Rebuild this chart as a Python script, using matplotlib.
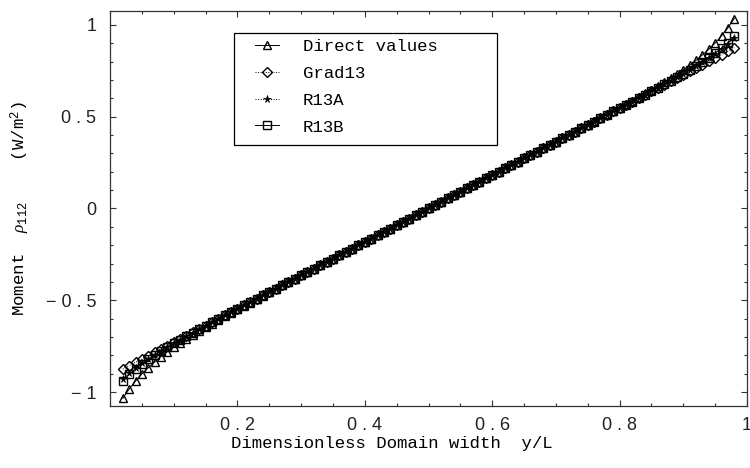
import numpy as np
import matplotlib
matplotlib.use("Agg")
import matplotlib.pyplot as plt
from matplotlib.ticker import MultipleLocator, FixedLocator
from matplotlib.patches import Rectangle

plt.rcParams['font.family'] = ['Liberation Mono', 'DejaVu Sans Mono']
plt.rcParams['mathtext.fontset'] = 'custom'
plt.rcParams['mathtext.rm'] = 'Liberation Mono'
plt.rcParams['mathtext.it'] = 'Liberation Serif:italic'
plt.rcParams['mathtext.bf'] = 'Liberation Mono:bold'

# ---------------- data ----------------
x_pos = [0.02, 0.03, 0.04, 0.05, 0.06, 0.07, 0.08, 0.09, 0.10, 0.11,
         0.12, 0.13, 0.14, 0.15, 0.16, 0.17, 0.18, 0.19, 0.20, 0.21,
         0.22, 0.23, 0.24, 0.25, 0.26, 0.27, 0.28, 0.29, 0.30, 0.31,
         0.32, 0.33, 0.34, 0.35, 0.36, 0.37, 0.38, 0.39, 0.40, 0.41,
         0.42, 0.43, 0.44, 0.45, 0.46, 0.47, 0.48, 0.49, 0.50, 0.51,
         0.52, 0.53, 0.54, 0.55, 0.56, 0.57, 0.58, 0.59, 0.60, 0.61,
         0.62, 0.63, 0.64, 0.65, 0.66, 0.67, 0.68, 0.69, 0.70, 0.71,
         0.72, 0.73, 0.74, 0.75, 0.76, 0.77, 0.78, 0.79, 0.80, 0.81,
         0.82, 0.83, 0.84, 0.85, 0.86, 0.87, 0.88, 0.89, 0.90, 0.91,
         0.92, 0.93, 0.94, 0.95, 0.96, 0.97, 0.98]

direct_values = [-1.034, -0.983, -0.940, -0.901, -0.867, -0.836, -0.806, -0.780, -0.755, -0.732,
                 -0.709, -0.687, -0.666, -0.646, -0.626, -0.607, -0.587, -0.568, -0.549, -0.530,
                 -0.512, -0.492, -0.474, -0.456, -0.437, -0.419, -0.400, -0.382, -0.364, -0.346,
                 -0.328, -0.309, -0.291, -0.273, -0.255, -0.237, -0.218, -0.200, -0.182, -0.164,
                 -0.146, -0.127, -0.109, -0.091, -0.073, -0.055, -0.036, -0.018, 0.000, 0.018,
                 0.036, 0.055, 0.073, 0.091, 0.109, 0.127, 0.146, 0.164, 0.182, 0.200,
                 0.218, 0.237, 0.255, 0.273, 0.291, 0.309, 0.328, 0.346, 0.364, 0.382,
                 0.400, 0.419, 0.437, 0.456, 0.474, 0.492, 0.512, 0.530, 0.549, 0.568,
                 0.587, 0.607, 0.626, 0.646, 0.666, 0.687, 0.709, 0.732, 0.755, 0.780,
                 0.806, 0.836, 0.867, 0.901, 0.940, 0.983, 1.034]

grad13 = [-0.874, -0.855, -0.837, -0.819, -0.801, -0.783, -0.764, -0.746, -0.728, -0.710,
          -0.692, -0.673, -0.655, -0.637, -0.619, -0.601, -0.582, -0.564, -0.546, -0.528,
          -0.510, -0.491, -0.473, -0.455, -0.437, -0.419, -0.400, -0.382, -0.364, -0.346,
          -0.328, -0.309, -0.291, -0.273, -0.255, -0.237, -0.218, -0.200, -0.182, -0.164,
          -0.146, -0.127, -0.109, -0.091, -0.073, -0.055, -0.036, -0.018, 0.000, 0.018,
          0.036, 0.055, 0.073, 0.091, 0.109, 0.127, 0.146, 0.164, 0.182, 0.200,
          0.218, 0.237, 0.255, 0.273, 0.291, 0.309, 0.328, 0.346, 0.364, 0.382,
          0.400, 0.419, 0.437, 0.455, 0.473, 0.491, 0.510, 0.528, 0.546, 0.564,
          0.582, 0.601, 0.619, 0.637, 0.655, 0.673, 0.692, 0.710, 0.728, 0.746,
          0.764, 0.783, 0.801, 0.819, 0.837, 0.855, 0.874]

r13a = [-0.929, -0.896, -0.867, -0.841, -0.818, -0.795, -0.773, -0.753, -0.733, -0.714,
        -0.695, -0.675, -0.656, -0.637, -0.619, -0.601, -0.582, -0.564, -0.546, -0.528,
        -0.510, -0.491, -0.473, -0.455, -0.437, -0.419, -0.400, -0.382, -0.364, -0.346,
        -0.328, -0.309, -0.291, -0.273, -0.255, -0.237, -0.218, -0.200, -0.182, -0.164,
        -0.146, -0.127, -0.109, -0.091, -0.073, -0.055, -0.036, -0.018, 0.000, 0.018,
        0.036, 0.055, 0.073, 0.091, 0.109, 0.127, 0.146, 0.164, 0.182, 0.200,
        0.218, 0.237, 0.255, 0.273, 0.291, 0.309, 0.328, 0.346, 0.364, 0.382,
        0.400, 0.419, 0.437, 0.455, 0.473, 0.491, 0.510, 0.528, 0.546, 0.564,
        0.582, 0.601, 0.619, 0.637, 0.656, 0.675, 0.695, 0.714, 0.733, 0.753,
        0.773, 0.795, 0.818, 0.841, 0.867, 0.896, 0.929]

r13b = [-0.937, -0.902, -0.873, -0.846, -0.821, -0.798, -0.775, -0.755, -0.734, -0.715,
        -0.696, -0.676, -0.657, -0.639, -0.620, -0.601, -0.582, -0.564, -0.546, -0.528,
        -0.510, -0.491, -0.473, -0.455, -0.437, -0.419, -0.400, -0.382, -0.364, -0.346,
        -0.328, -0.309, -0.291, -0.273, -0.255, -0.237, -0.218, -0.200, -0.182, -0.164,
        -0.146, -0.127, -0.109, -0.091, -0.073, -0.055, -0.036, -0.018, 0.000, 0.018,
        0.036, 0.055, 0.073, 0.091, 0.109, 0.127, 0.146, 0.164, 0.182, 0.200,
        0.218, 0.237, 0.255, 0.273, 0.291, 0.309, 0.328, 0.346, 0.364, 0.382,
        0.400, 0.419, 0.437, 0.455, 0.473, 0.491, 0.510, 0.528, 0.546, 0.564,
        0.582, 0.601, 0.620, 0.639, 0.657, 0.676, 0.696, 0.715, 0.734, 0.755,
        0.775, 0.798, 0.821, 0.846, 0.873, 0.902, 0.937]

series_labels = ["Direct values", "Grad13", "R13A", "R13B"]
x_ticks = [0.2, 0.4, 0.6, 0.8, 1.0]
x_tick_labels = ["0 . 2", "0 . 4", "0 . 6", "0 . 8", "1"]
y_ticks = [-1.0, -0.5, 0.0, 0.5, 1.0]
y_tick_labels = ["\u2212 1", "\u2212 0 . 5", "0", "0 . 5", "1"]

for s in (direct_values, grad13, r13a, r13b):
    assert len(s) == len(x_pos), len(s)

# ---------------- figure ----------------
fig = plt.figure(figsize=(7.5, 4.68), dpi=100)
ax = fig.add_axes([0.1467, 0.1325, 0.8493, 0.844])

lw = 0.7
ax.plot(x_pos, direct_values, '-', color='black', lw=lw, marker='^', ms=6.4,
        mfc='none', mec='black', mew=1.0, label=series_labels[0])
ax.plot(x_pos, grad13, ':', color='black', lw=lw, marker='D', ms=4.6,
        mfc='none', mec='black', mew=1.0, label=series_labels[1])
ax.plot(x_pos, r13a, ':', color='black', lw=lw, marker='*', ms=5.5,
        mfc='black', mec='black', mew=0.5, label=series_labels[2])
ax.plot(x_pos, r13b, '-', color='black', lw=lw, marker='s', ms=5.4,
        mfc='none', mec='black', mew=1.0, label=series_labels[3])

ax.set_xlim(0.0, 1.0)
ax.set_ylim(-1.075, 1.075)

ax.xaxis.set_major_locator(FixedLocator(x_ticks))
ax.set_xticklabels(x_tick_labels, family='Liberation Sans')
ax.xaxis.set_minor_locator(MultipleLocator(0.05))
ax.yaxis.set_major_locator(FixedLocator(y_ticks))
ax.set_yticklabels(y_tick_labels, family='Liberation Sans')
ax.yaxis.set_minor_locator(MultipleLocator(0.1))

ax.tick_params(which='both', direction='in', top=True, right=True,
               color='#333333', width=0.8)
ax.tick_params(which='major', length=4.5, labelsize=13, labelcolor='#222222')
ax.tick_params(axis='x', which='major', pad=8)
ax.tick_params(axis='y', which='major', pad=10)
ax.tick_params(which='minor', length=2.5)

for sp in ax.spines.values():
    sp.set_color('#333333')
    sp.set_linewidth(0.9)

ax.set_xlabel("Dimensionless Domain width  y/L", fontsize=12.5)
ax.xaxis.set_label_coords(0.443, -0.077)
ax.set_ylabel(r"Moment  $\rho_{112}$    (W/m$^{2}$)", fontsize=12.5, va='center')
ax.yaxis.set_label_coords(-0.141, 0.5)

# legend frame (box drawn separately to match the reference padding)
ax.add_patch(Rectangle((0.1947, 0.661), 0.4129, 0.2835, transform=ax.transAxes,
                       fill=True, facecolor='white', edgecolor='black', lw=0.9, zorder=4))
leg = ax.legend(loc='upper left', bbox_to_anchor=(0.2276, 0.929),
                borderaxespad=0.0, borderpad=0.0, fontsize=12.5, frameon=False,
                numpoints=1, handlelength=1.38, handletextpad=1.38, labelspacing=0.67)
leg.set_zorder(5)

fig.savefig("out.png", dpi=100)
